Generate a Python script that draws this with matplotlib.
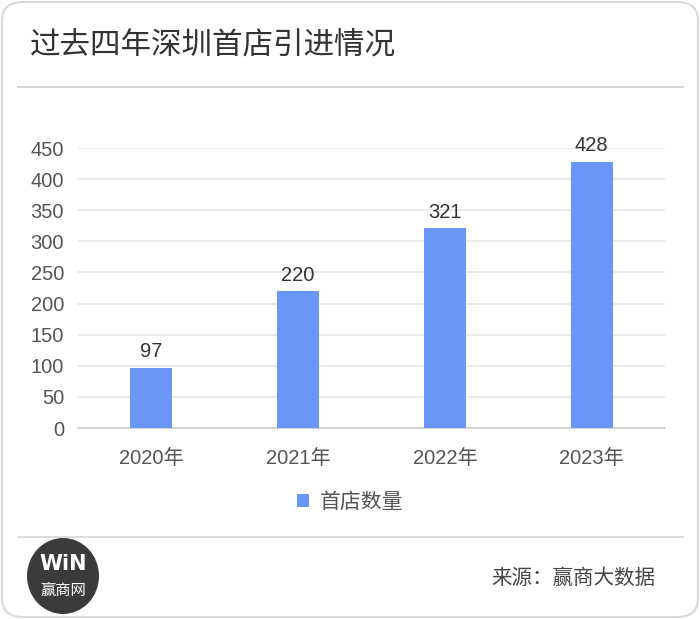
import matplotlib
matplotlib.use('Agg')
import matplotlib.pyplot as plt
from matplotlib.patches import FancyBboxPatch, Ellipse
from matplotlib.lines import Line2D

plt.rcParams['font.family'] = ['Liberation Sans', 'Noto Sans CJK SC', 'DejaVu Sans']

# data
years = ['2020年', '2021年', '2022年', '2023年']
store_counts = [97, 220, 321, 428]
y_ticks = [0, 50, 100, 150, 200, 250, 300, 350, 400, 450]
series_name = '首店数量'
title = '过去四年深圳首店引进情况'
source = '来源：赢商大数据'

W, H = 700, 619
fig = plt.figure(figsize=(W / 100, H / 100), dpi=100)
fig.patch.set_facecolor('white')

# card outline
card = FancyBboxPatch((2 / W, 2 / H), 696 / W, 615 / H,
                      boxstyle="round,pad=0,rounding_size=0.03",
                      transform=fig.transFigure, facecolor='none',
                      edgecolor='#d9d9d9', linewidth=1.5, zorder=-1)
fig.patches.append(card)

fig.text(30 / W, 1 - 45 / H, title, fontsize=22, color='#333333',
         va='center', ha='left', family=['Noto Sans CJK SC'])
fig.lines.append(Line2D([18 / W, 683 / W], [1 - 87 / H, 1 - 87 / H],
                        transform=fig.transFigure, color='#d6d6d6', lw=1.5))
fig.lines.append(Line2D([18 / W, 683 / W], [1 - 537 / H, 1 - 537 / H],
                        transform=fig.transFigure, color='#d6d6d6', lw=1.2))

ax = fig.add_axes([78 / W, 1 - 428 / H, 587 / W, 280 / H])
ax.patch.set_alpha(0)
x = range(len(years))
bars = ax.bar(x, store_counts, width=0.286, color='#6a96f8', zorder=3,
              label=series_name)
for xi, v in zip(x, store_counts):
    ax.text(xi, v + 10, str(v), ha='center', va='bottom', fontsize=14.5,
            color='#333333')

ax.set_xlim(-0.5, 3.5)
ax.set_ylim(0, 450)
ax.set_yticks(y_ticks)
ax.set_xticks(list(x))
ax.set_xticklabels(years)
ax.tick_params(axis='both', length=0, labelsize=14.5, labelcolor='#555555')
ax.tick_params(axis='y', pad=10)
ax.tick_params(axis='x', pad=15)
for s in ['top', 'right', 'left']:
    ax.spines[s].set_visible(False)
ax.spines['bottom'].set_color('#cccccc')
ax.spines['bottom'].set_linewidth(1.2)
ax.yaxis.grid(True, color='#e6e6e6', linewidth=1.2, zorder=0)
ax.set_axisbelow(True)

leg = fig.legend(handles=[bars], labels=[series_name],
                 loc='center', bbox_to_anchor=(350 / W, 1 - 502 / H),
                 frameon=False, fontsize=15, handlelength=0.6,
                 handleheight=0.6, handletextpad=0.5)
for t in leg.get_texts():
    t.set_color('#555555')

# logo
fig.patches.append(Ellipse((63 / W, 1 - 576 / H), 72 / W, 76 / H,
                           transform=fig.transFigure, facecolor='#3b3b3b',
                           edgecolor='none'))
fig.text(63 / W, 1 - 564 / H, 'WiN', fontsize=15, fontweight='bold',
         color='white', ha='center', va='center', family='DejaVu Sans')
fig.text(63 / W, 1 - 590 / H, '赢商网', fontsize=11, color='white',
         ha='center', va='center', family=['Noto Sans CJK SC'])

fig.text(655 / W, 1 - 578 / H, source, fontsize=14.8, color='#444444',
         ha='right', va='center', family=['Noto Sans CJK SC'])

fig.savefig('out.png', dpi=100, facecolor='white')
